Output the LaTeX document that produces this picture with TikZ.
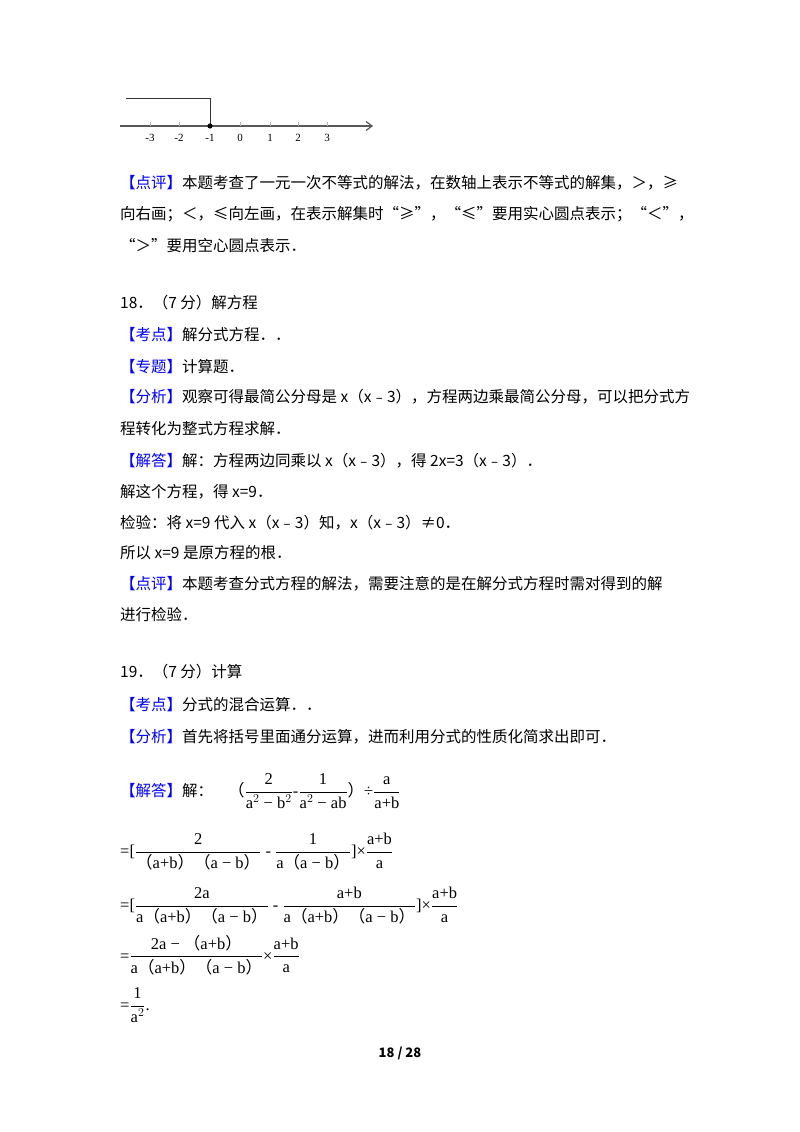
\documentclass[tikz,border=0pt]{standalone}
\usepackage{amsmath}
\usepackage{fontspec}
\newfontfamily\cjk{Noto Sans CJK SC}
\newfontfamily\ser{Liberation Serif}
\usetikzlibrary{arrows.meta}
\newcommand{\bk}[1]{\textcolor{blue}{【#1】}}
\newcommand{\ms}[1]{\hbox{\ser\fontsize{16.5}{18}\selectfont #1}}
\newcommand{\lp}{{\cjk（}}
\newcommand{\rp}{{\cjk）}}
\begin{document}
\begin{tikzpicture}[x=1pt,y=-1pt,
  txt/.style={anchor=west,inner sep=0pt,font=\cjk\fontsize{15.5}{18}\selectfont},
  lab/.style={inner sep=0pt,font=\ser\fontsize{11}{12}\selectfont},
  mth/.style={anchor=west,inner sep=0pt,font=\ser\fontsize{16.5}{18}\selectfont}]
\useasboundingbox[fill=white] (0,0) rectangle (800,1132);
% number line
\coordinate (s) at (120,126); \coordinate (e) at (373,126);
\draw[gray!70!black,line width=1.2pt,-{Straight Barb[length=6pt,width=9pt]}] (s) -- (e);
\foreach \x/\l in {150/-3,179/-2,210/-1,240/0,270/1,298/2,327/3}{
  \draw[gray!60] (\x,122) -- (\x,126);
  \node[lab] (t\x) at (\x,138) {\l};}
\coordinate (a) at (126,98); \coordinate (b) at (210,98); \coordinate (c) at (210,126);
\draw[black!80,line width=0.8pt] (a) -- (b) -- (c);
\fill (c) circle (2.6pt);
% text
\node[txt] (l1) at (120,183) {\bk{点评}本题考查了一元一次不等式的解法，在数轴上表示不等式的解集，＞，≥};
\node[txt] (l2) at (120,214) {向右画；＜，≤向左画，在表示解集时“≥”，“≤”要用实心圆点表示；“＜”，};
\node[txt] (l3) at (120,246) {“＞”要用空心圆点表示．};
\node[txt] (l4) at (120,303) {18．（7 分）解方程};
\node[txt] (l5) at (120,335) {\bk{考点}解分式方程．．};
\node[txt] (l6) at (120,367) {\bk{专题}计算题．};
\node[txt] (l7) at (120,397) {\bk{分析}观察可得最简公分母是 x（x﹣3），方程两边乘最简公分母，可以把分式方};
\node[txt] (l8) at (120,429) {程转化为整式方程求解．};
\node[txt] (l9) at (120,461) {\bk{解答}解：方程两边同乘以 x（x﹣3），得 2x=3（x﹣3）．};
\node[txt] (l10) at (120,492) {解这个方程，得 x=9．};
\node[txt] (l11) at (120,523) {检验：将 x=9 代入 x（x﹣3）知，x（x﹣3）≠0．};
\node[txt] (l12) at (120,553) {所以 x=9 是原方程的根．};
\node[txt] (l13) at (120,584) {\bk{点评}本题考查分式方程的解法，需要注意的是在解分式方程时需对得到的解};
\node[txt] (l14) at (120,615) {进行检验．};
\node[txt] (l15) at (120,672) {19．（7 分）计算};
\node[txt] (l16) at (120,705) {\bk{考点}分式的混合运算．．};
\node[txt] (l17) at (120,737) {\bk{分析}首先将括号里面通分运算，进而利用分式的性质化简求出即可．};
\node[txt] (l18) at (120,791) {\bk{解答}解：};
\node[mth] (m1) at (228,791) {\lp$\dfrac{\ms{2}}{\ms{a$^2$ − b$^2$}}$-$\dfrac{\ms{1}}{\ms{a$^2$ − ab}}$\rp÷$\dfrac{\ms{a}}{\ms{a+b}}$};
\node[mth] (m2) at (120,852) {=[$\dfrac{\ms{2}}{\ms{\lp a+b\rp\lp a − b\rp}}$ - $\dfrac{\ms{1}}{\ms{a\lp a − b\rp}}$]×$\dfrac{\ms{a+b}}{\ms{a}}$};
\node[mth] (m3) at (120,906) {=[$\dfrac{\ms{2a}}{\ms{a\lp a+b\rp\lp a − b\rp}}$ - $\dfrac{\ms{a+b}}{\ms{a\lp a+b\rp\lp a − b\rp}}$]×$\dfrac{\ms{a+b}}{\ms{a}}$};
\node[mth] (m4) at (120,955) {=$\dfrac{\ms{2a − \lp a+b\rp}}{\ms{a\lp a+b\rp\lp a − b\rp}}$×$\dfrac{\ms{a+b}}{\ms{a}}$};
\node[mth] (m5) at (120,1005) {=$\dfrac{\ms{1}}{\ms{a$^2$}}$.};
\node[inner sep=0pt,font=\cjk\bfseries\fontsize{13}{15}\selectfont] (pg) at (400,1053) {18 / 28};
\end{tikzpicture}
\end{document}
